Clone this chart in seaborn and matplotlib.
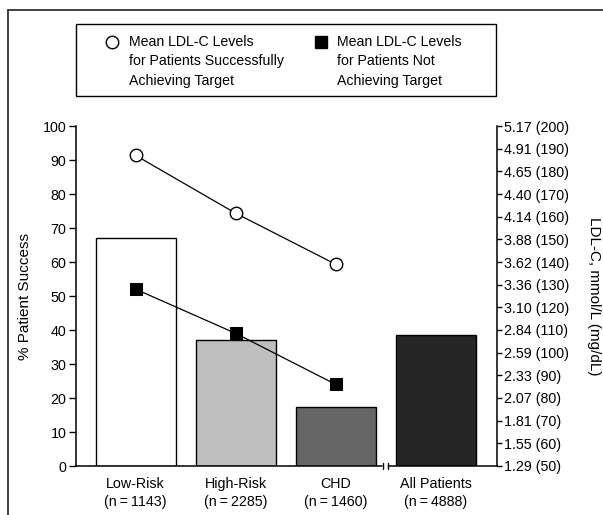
import matplotlib
matplotlib.use("Agg")
import matplotlib.pyplot as plt
import seaborn as sns
import pandas as pd
from matplotlib.lines import Line2D
from matplotlib.patches import Rectangle

# ---- data ----
categories = ["Low-Risk\n(n\u2009=\u20091143)", "High-Risk\n(n\u2009=\u20092285)",
              "CHD\n(n\u2009=\u20091460)", "All Patients\n(n\u2009=\u20094888)"]
success_pct = [67.2, 37.0, 17.3, 38.4]
bar_colors = ["#ffffff", "#bfbfbf", "#666666", "#262626"]
ldl_success = [187.0, 161.5, 139.0]      # mg/dL, open circles
ldl_not = [128.0, 108.5, 86.0]           # mg/dL, filled squares
line_x = [0, 1, 2]
left_ticks = [0, 10, 20, 30, 40, 50, 60, 70, 80, 90, 100]
right_ticks_mgdl = [50, 60, 70, 80, 90, 100, 110, 120, 130, 140, 150, 160, 170, 180, 190, 200]
right_ticks_mmol = ["1.29", "1.55", "1.81", "2.07", "2.33", "2.59", "2.84", "3.10",
                    "3.36", "3.62", "3.88", "4.14", "4.40", "4.65", "4.91", "5.17"]
legend_labels = ["Mean LDL-C Levels\nfor Patients Successfully\nAchieving Target",
                 "Mean LDL-C Levels\nfor Patients Not\nAchieving Target"]

sns.set_style("white")
plt.rcParams["font.family"] = ["Liberation Sans", "DejaVu Sans"]
for k in ["text.color", "axes.labelcolor", "xtick.color", "ytick.color"]:
    plt.rcParams[k] = "black"

W, H = 603, 515
fig = plt.figure(figsize=(W / 100, H / 100), dpi=100)
fx = lambda px: px / W
fy = lambda py: 1 - py / H

ax = fig.add_axes([fx(76), fy(466), (496.7 - 76) / W, (466 - 126) / H])

df = pd.DataFrame({"cat": categories, "pct": success_pct})
sns.barplot(data=df, x="cat", y="pct", hue="cat", palette=bar_colors, legend=False,
            edgecolor="black", linewidth=1.0, width=0.8, saturation=1, ax=ax)
ax.set_xlim(-0.597, 3.61)
ax.set_ylim(0, 100)
ax.set_yticks(left_ticks)
ax.set_xlabel("")
ax.set_ylabel("% Patient Success", fontsize=11)
ax.yaxis.set_label_coords(-0.104, 0.5)
ax.tick_params(axis="y", direction="out", length=5, width=1, pad=2, labelsize=10.3, left=True)
ax.tick_params(axis="x", length=0, pad=8, labelsize=10.3)
for lbl in ax.get_xticklabels():
    lbl.set_linespacing(1.35)
for s in ["top", "right"]:
    ax.spines[s].set_visible(False)
for s in ["left", "bottom"]:
    ax.spines[s].set_color("black")
    ax.spines[s].set_linewidth(1.1)

# axis break marks
for bx in [2.47, 2.523]:
    ax.plot([bx, bx], [-1.0, 1.0], color="black", lw=1.0, clip_on=False, zorder=6)
ax.plot([2.476, 2.517], [0, 0], color="white", lw=2.0, clip_on=False, zorder=5)

# right axis
ax2 = ax.twinx()
ax2.set_ylim(50, 200)
ax2.set_xlim(-0.597, 3.61)
sns.lineplot(x=line_x, y=ldl_success, ax=ax2, color="black", lw=0.9, marker="o",
             markersize=9, markerfacecolor="white", markeredgecolor="black",
             markeredgewidth=1.0, zorder=4)
sns.lineplot(x=line_x, y=ldl_not, ax=ax2, color="black", lw=0.9, marker="s",
             markersize=8, markerfacecolor="black", markeredgecolor="black", zorder=4)
ax2.set_yticks(right_ticks_mgdl)
ax2.set_yticklabels([f"{m} ({g})" for m, g in zip(right_ticks_mmol, right_ticks_mgdl)])
ax2.tick_params(axis="y", direction="out", length=3.5, width=1, pad=2, labelsize=10.3, right=True)
ax2.set_ylabel("LDL-C, mmol/L (mg/dL)", fontsize=11, rotation=270)
ax2.yaxis.set_label_coords(1.249, 0.5)
for s in ["top", "left", "bottom"]:
    ax2.spines[s].set_visible(False)
ax2.spines["right"].set_color("black")
ax2.spines["right"].set_linewidth(1.1)

# legend box (figure coordinates)
fig.add_artist(Rectangle((fx(75.7), fy(96)), (495.7 - 75.7) / W, (96 - 23.7) / H,
                         transform=fig.transFigure, fill=False, edgecolor="black", lw=1.0))
fig.add_artist(Line2D([fx(112.3)], [fy(42)], transform=fig.transFigure, marker="o",
                      markersize=9, markerfacecolor="white", markeredgecolor="black",
                      markeredgewidth=1.0, linestyle="none"))
fig.add_artist(Line2D([fx(321)], [fy(42)], transform=fig.transFigure, marker="s",
                      markersize=8, markerfacecolor="black", markeredgecolor="black",
                      linestyle="none"))
fig.text(fx(129), fy(34.5), legend_labels[0], fontsize=10.2, va="top", ha="left", linespacing=1.5)
fig.text(fx(336.7), fy(34.5), legend_labels[1], fontsize=10.2, va="top", ha="left", linespacing=1.5)

# outer frame lines
fig.add_artist(Line2D([fx(8), fx(603)], [fy(10), fy(10)], transform=fig.transFigure,
                      color="#333333", lw=1.3))
fig.add_artist(Line2D([fx(8), fx(8)], [fy(10), fy(515)], transform=fig.transFigure,
                      color="#333333", lw=1.3))

fig.savefig("out.png", dpi=100)
